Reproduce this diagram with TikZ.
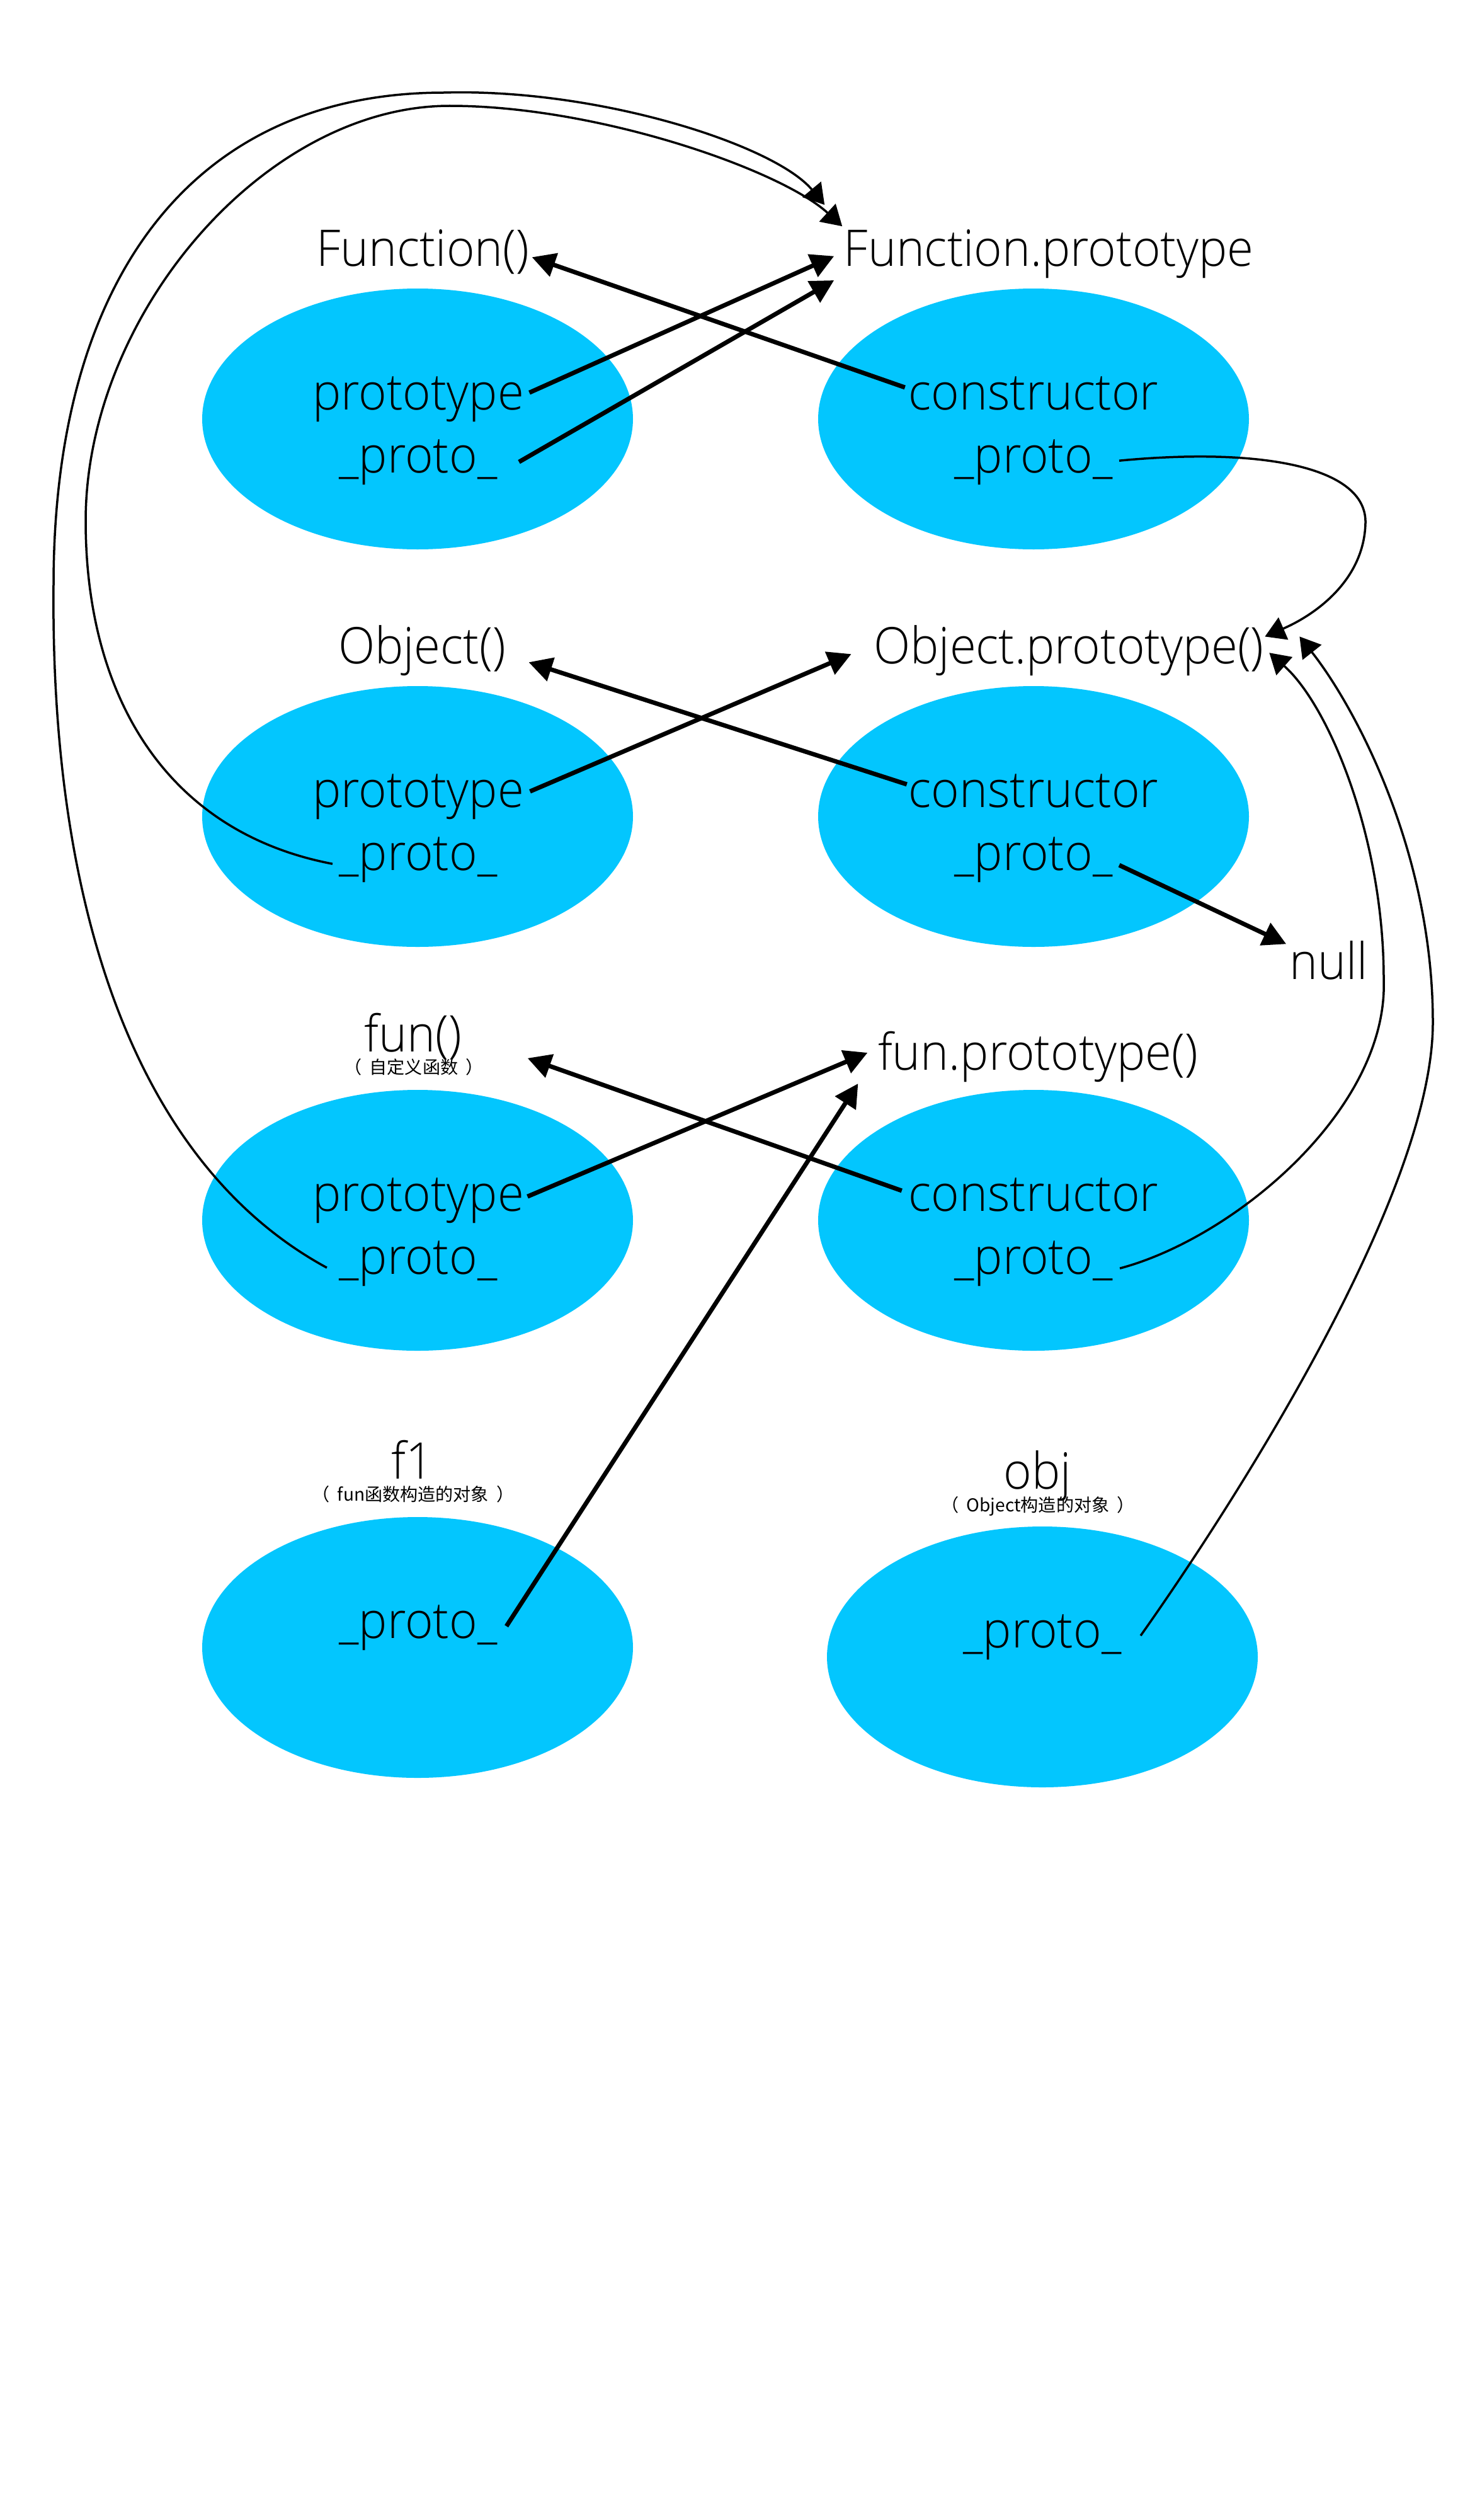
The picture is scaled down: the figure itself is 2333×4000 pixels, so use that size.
\documentclass[tikz,border=0pt]{standalone}
\usepackage{fontspec}
\setmainfont{Open Sans}[UprightFont=* Light, FakeStretch=0.95]
\newfontfamily\cjk{Noto Sans CJK SC}
\usetikzlibrary{shapes.geometric, arrows.meta}
\definecolor{blobblue}{HTML}{03C6FE}
\newcommand{\pgap}{\hspace{1.2mm}}
\tikzset{
  blob/.style={ellipse,fill=blobblue,minimum width=68.4mm,minimum height=41.4mm,inner sep=0},
  word/.style={inner sep=0,anchor=base,font=\fontsize{22.8}{27}\selectfont},
  sub/.style={inner sep=0,anchor=base,font=\cjk\fontsize{8}{9}\selectfont},
  link/.style={-{Triangle[length=3.7mm,width=3.8mm]},line width=0.7mm},
  chain/.style={-{Triangle[length=3.2mm,width=3.8mm]},line width=0.35mm}
}

\begin{document}
\begin{tikzpicture}[x=0.1mm, y=-0.1mm]

  \fill[white] (0,0) rectangle (2333,4000);

  % Function row
  \node[blob] (fnE) at (663,665) {};
  \node[blob] (fpE) at (1641,665) {};
  \node[word] (fnL) at (671,422) {Function()};
  \node[word] (fpL) at (1665,422) {Function.prototype};
  \node[word] (fnP) at (664,650) {prototype};
  \node[word] (fnU) at (664,750) {\_proto\_};
  \node[word] (fpC) at (1641,650) {constructor};
  \node[word] (fpU) at (1641,750) {\_proto\_};

  % Object row
  \node[blob] (obE) at (663,1296) {};
  \node[blob] (opE) at (1641,1296) {};
  \node[word] (obL) at (670,1053) {Object()};
  \node[word] (opL) at (1697,1053) {Object.prototype()};
  \node[word] (obP) at (664,1281) {prototype};
  \node[word] (obU) at (664,1381) {\_proto\_};
  \node[word] (opC) at (1641,1281) {constructor};
  \node[word] (opU) at (1641,1381) {\_proto\_};
  \node[word] (nullL) at (2110,1554) {null};

  % fun row
  \node[blob] (fuE) at (663,1937) {};
  \node[blob] (fupE) at (1641,1937) {};
  \node[word] (fuL) at (656,1669) {fun()};
  \node[sub] (fuS) at (657,1704) {（\pgap 自定义函数\pgap ）};
  \node[word] (fupL) at (1648,1698) {fun.prototype()};
  \node[word] (fuP) at (664,1922) {prototype};
  \node[word] (fuU) at (664,2022) {\_proto\_};
  \node[word] (fupC) at (1641,1922) {constructor};
  \node[word] (fupU) at (1641,2022) {\_proto\_};

  % instances
  \node[blob] (f1E) at (663,2615) {};
  \node[blob] (objE) at (1655,2630) {};
  \node[word] (f1L) at (655,2347) {f1};
  \node[sub] (f1S) at (656,2382) {（\pgap fun函数构造的对象\pgap ）};
  \node[word] (objL) at (1647,2363) {obj};
  \node[sub] (objS) at (1648,2399) {（\pgap Object构造的对象\pgap ）};
  \node[word] (f1U) at (664,2600) {\_proto\_};
  \node[word] (objU) at (1655,2615) {\_proto\_};

  % straight links
  \draw[link] ([shift={(8,-10)}]fnP.east) -- ([shift={(-15,4)}]fpL.west);
  \draw[link] ([shift={(34,0)}]fnU.east) -- ([shift={(-15,3)}]fpL.south west);
  \draw[link] ([shift={(-5,-9)}]fpC.west) -- ([shift={(4,9)}]fnL.east);

  \draw[link] ([shift={(9,-8)}]obP.east) -- ([shift={(-35,6)}]opL.west);
  \draw[link] ([shift={(-2,-10)}]opC.west) -- ([shift={(36,19)}]obL.east);
  \draw[link] ([shift={(10,9)}]opU.east) -- ([shift={(-5,6)}]nullL.north west);

  \draw[link] ([shift={(5,-6)}]fuP.east) -- ([shift={(-16,-6)}]fupL.west);
  \draw[link] ([shift={(-10,-6)}]fupC.west) -- ([shift={(104,35)}]fuL.east);

  \draw[link] ([shift={(14,-2)}]f1U.east) -- ([shift={(-31,2)}]fupL.south west);

  % curved chains, right side
  \draw[chain] ([shift={(10,-2)}]fpU.east) .. controls (2000,710) and (2170,740) .. (2168,830)
    .. controls (2166,920) and (2090,975) .. ([shift={(1,19)}]opL.north east);
  \draw[chain] ([shift={(11,8)}]fupU.east) .. controls (1960,1965) and (2205,1760) .. (2197,1554)
    .. controls (2197,1330) and (2110,1120) .. ([shift={(8,4)}]opL.east);
  \draw[chain] ([shift={(30,-2)}]objU.east) .. controls (1950,2400) and (2275,1900) .. (2275,1623)
    .. controls (2275,1350) and (2150,1120) .. ([shift={(56,19)}]opL.north east);

  % curved chains, left side
  \draw[chain] ([shift={(-19,7)}]fuU.west) .. controls (220,1850) and (80,1450) .. (85,929)
    .. controls (85,450) and (300,147) .. (705,147)
    .. controls (950,140) and (1230,230) .. ([shift={(-30,-38)}]fpL.north west);
  \draw[chain] ([shift={(-10,7)}]obU.west) .. controls (260,1320) and (136,1100) .. (136,827)
    .. controls (136,500) and (420,168) .. (714,168)
    .. controls (950,168) and (1240,270) .. ([shift={(-2,-4)}]fpL.north west);

\end{tikzpicture}
\end{document}
